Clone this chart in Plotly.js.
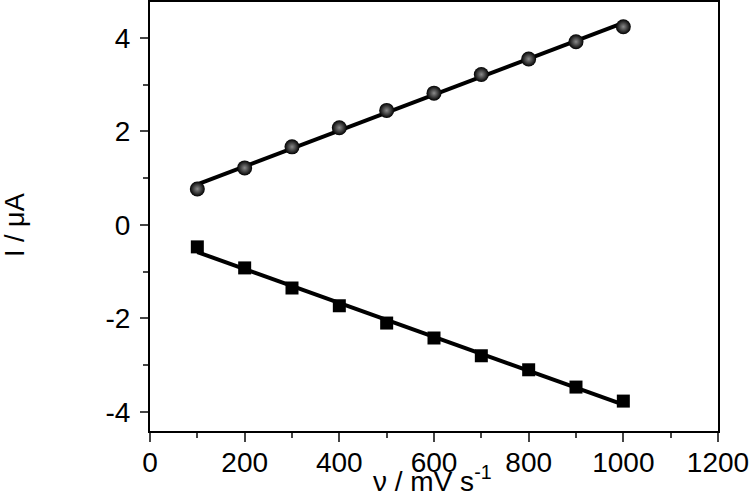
<!DOCTYPE html>
<html>
<head>
<meta charset="utf-8">
<script src="https://cdn.plot.ly/plotly-3.0.1.min.js"></script>
<style>
  html, body { margin: 0; padding: 0; background: #fff; }
  #plot { width: 753px; height: 495px; }
</style>
</head>
<body>
<div id="plot"></div>
<script>
// scan rate (mV/s) and peak currents (uA)
let scanRates = [100, 200, 300, 400, 500, 600, 700, 800, 900, 1000];
let anodicPeak = [0.77, 1.22, 1.67, 2.08, 2.45, 2.82, 3.22, 3.55, 3.92, 4.24];
let cathodicPeak = [-0.47, -0.92, -1.35, -1.73, -2.10, -2.42, -2.80, -3.10, -3.47, -3.77];

// tick labels (plain hyphen minus like the original)
let yTickVals = [-4, -2, 0, 2, 4];
let yTickText = ["-4", "-2", "0", "2", "4"];

// least squares line through each set of points
function linFit(xs, ys) {
    let n = xs.length;
    let sx = 0, sy = 0, sxx = 0, sxy = 0;
    for (let i = 0; i < n; i++) {
        sx += xs[i]; sy += ys[i];
        sxx += xs[i] * xs[i]; sxy += xs[i] * ys[i];
    }
    let m = (n * sxy - sx * sy) / (n * sxx - sx * sx);
    let b = (sy - m * sx) / n;
    return xs.map(x => m * x + b);
}

let fitX = [scanRates[0], scanRates[scanRates.length - 1]];
let anodicLine = linFit(scanRates, anodicPeak);
let cathodicLine = linFit(scanRates, cathodicPeak);

let anodicFit = {
    x: fitX,
    y: [anodicLine[0], anodicLine[anodicLine.length - 1]],
    mode: "lines",
    line: {color: "#000", width: 4},
    hoverinfo: "skip"
};

let cathodicFit = {
    x: fitX,
    y: [cathodicLine[0], cathodicLine[cathodicLine.length - 1]],
    mode: "lines",
    line: {color: "#000", width: 4},
    hoverinfo: "skip"
};

let anodicPts = {
    x: scanRates,
    y: anodicPeak,
    mode: "markers",
    marker: {
        symbol: "circle",
        size: 15,
        color: "#000",
        gradient: {type: "radial", color: "#8a8a8a"},
        line: {width: 0}
    }
};

let cathodicPts = {
    x: scanRates,
    y: cathodicPeak,
    mode: "markers",
    marker: {symbol: "square", size: 13, color: "#000", line: {width: 0}}
};

let data = [anodicFit, cathodicFit, anodicPts, cathodicPts];

let fontFam = "Liberation Sans, Arial, sans-serif";
let axisFont = {family: fontFam, size: 28, color: "#000"};

let layout = {
    width: 753,
    height: 495,
    showlegend: false,
    paper_bgcolor: "#fff",
    plot_bgcolor: "#fff",
    margin: {l: 150, r: 35, t: 2, b: 64},
    xaxis: {
        range: [0, 1200],
        tick0: 0,
        dtick: 200,
        ticks: "outside",
        ticklen: 9,
        tickwidth: 1.5,
        ticklabelstandoff: -4,
        minor: {dtick: 100, ticks: "outside", ticklen: 5, tickwidth: 1.5},
        showgrid: false,
        zeroline: false,
        showline: true,
        linecolor: "#000",
        linewidth: 2,
        mirror: true,
        tickfont: axisFont
    },
    yaxis: {
        range: [-4.41, 4.77],
        tickvals: yTickVals,
        ticktext: yTickText,
        ticks: "outside",
        ticklen: 8,
        tickwidth: 1.5,
        ticklabelstandoff: 4,
        minor: {dtick: 1, ticks: "outside", ticklen: 5, tickwidth: 1.5},
        showgrid: false,
        zeroline: false,
        showline: true,
        linecolor: "#000",
        linewidth: 2,
        mirror: true,
        tickfont: axisFont
    },
    annotations: [
        {
            text: "ν / mV s<sup>-1</sup>",
            xref: "paper", yref: "paper",
            x: 0.498, y: -0.113,
            xanchor: "center", yanchor: "middle",
            showarrow: false,
            font: axisFont
        },
        {
            text: "I / μA",
            xref: "paper", yref: "paper",
            x: -0.238, y: 0.48,
            xanchor: "center", yanchor: "middle",
            textangle: -90,
            showarrow: false,
            font: {family: fontFam, size: 27, color: "#000"}
        }
    ]
};

Plotly.newPlot("plot", data, layout, {displayModeBar: false});
</script>
</body>
</html>
